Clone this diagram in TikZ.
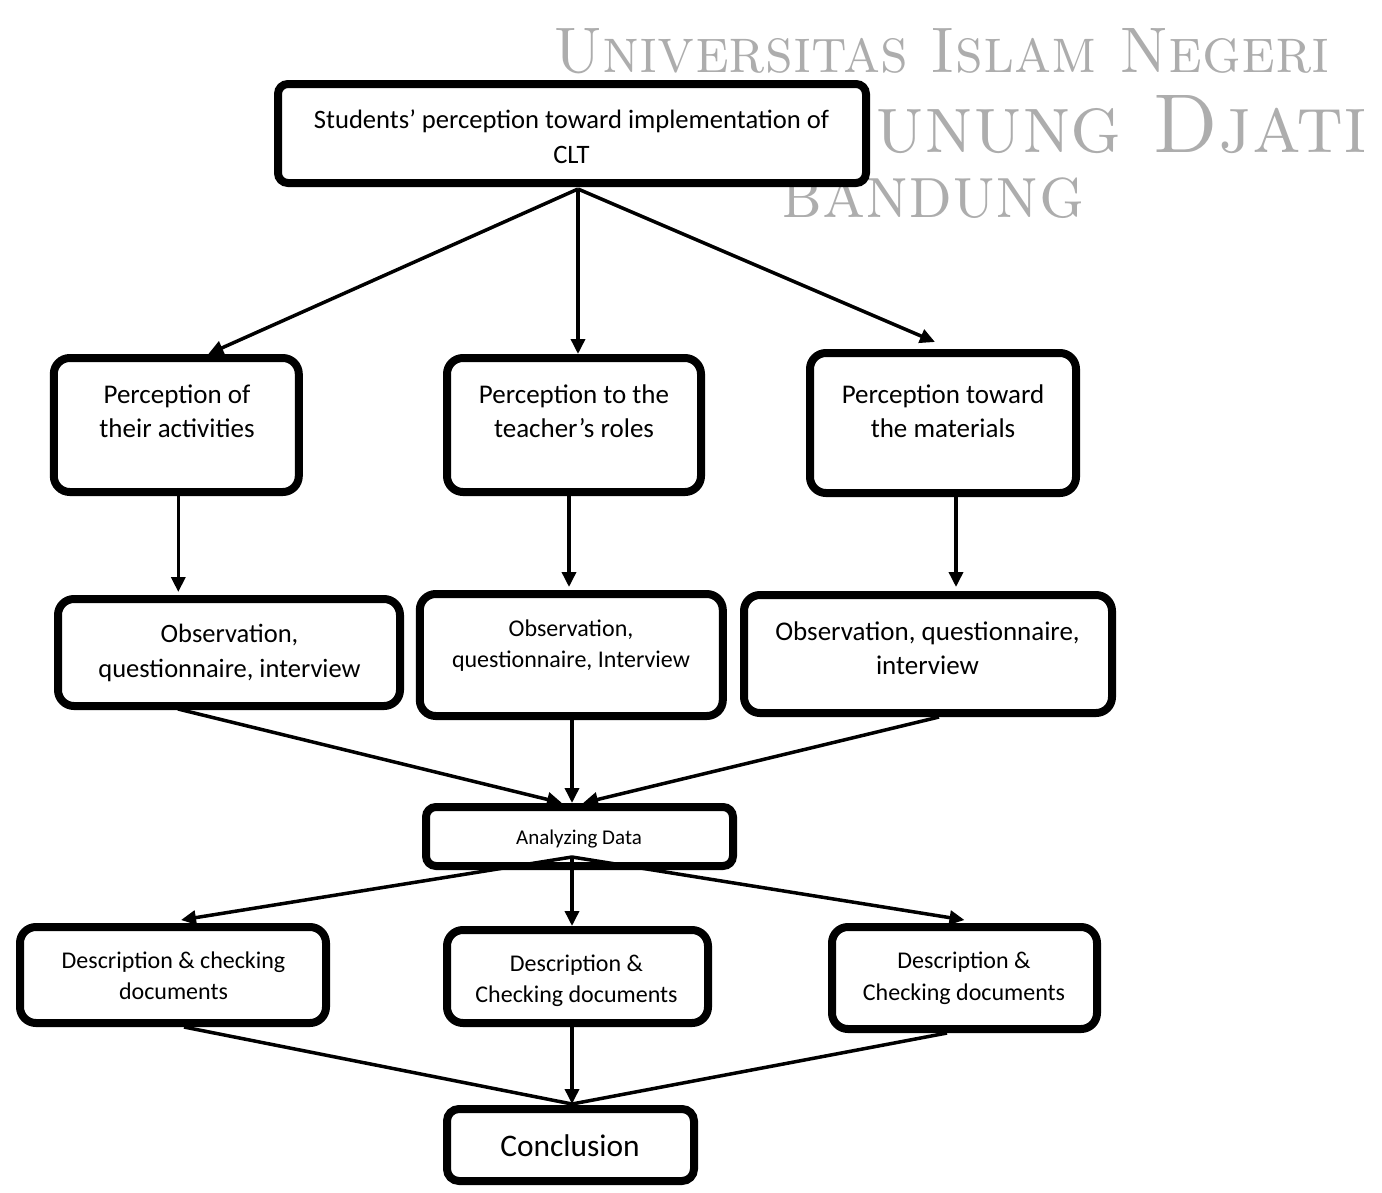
\documentclass[tikz,border=0pt]{standalone}
\usepackage{fontspec}
\usepackage{graphicx}
\newfontfamily\calib{Carlito}
\usetikzlibrary{arrows.meta}
\newcommand{\twol}[1]{\begin{tabular}[t]{@{}c@{}}#1\end{tabular}}
\newcommand{\nodepth}[1]{\raisebox{0pt}[\height][0pt]{#1}}
\tikzset{
  box/.style={draw=black, line width=8pt, rounded corners=16pt, fill=white, inner sep=0pt},
  lbl/.style={inner sep=0pt, anchor=base},
  arr/.style={line width=3.5pt, -{Triangle[length=15pt,width=14pt]}},
  ln/.style={line width=3.5pt},
  wm/.style={text=black!32, inner sep=0pt, anchor=base west, font=\fontsize{40}{40}\selectfont\scshape}
}
\begin{document}
\begin{tikzpicture}[x=1pt,y=-1pt]
\fill[white] (0,0) rectangle (1382,1192);
\useasboundingbox (0,0) rectangle (1382,1192);

% watermark
\node[wm] (w1) at (553,72) {\nodepth{\resizebox{777pt}{44pt}{Universitas Islam Negeri}}};
\node[wm] (w2) at (875,152) {\nodepth{\resizebox{492pt}{57pt}{unung Djati}}};
\node[wm] (w3) at (781,217) {\nodepth{\resizebox{303pt}{40pt}{bandung}}};

% boxes
\node[box, rounded corners=10pt, minimum width=588pt, minimum height=99pt] (T) at (572,133.5) {};
\node[box, minimum width=245pt, minimum height=134pt] (A2) at (176.3,425) {};
\node[box, minimum width=254pt, minimum height=134pt] (B2) at (574,425) {};
\node[box, minimum width=266pt, minimum height=140pt] (C2) at (943,423) {};
\node[box, minimum width=342pt, minimum height=107pt] (A3) at (229,652.5) {};
\node[box, minimum width=303pt, minimum height=122pt] (B3) at (571.3,655) {};
\node[box, minimum width=368pt, minimum height=118pt] (C3) at (928,654) {};
\node[box, rounded corners=10pt, minimum width=307pt, minimum height=59pt] (AD) at (579.5,836.5) {};
\node[box, minimum width=306pt, minimum height=96pt] (A4) at (173,975) {};
\node[box, minimum width=261pt, minimum height=93pt] (B4) at (577.5,976.5) {};
\node[box, minimum width=265pt, minimum height=102pt] (C4) at (964.5,978) {};
\node[box, rounded corners=12pt, minimum width=247pt, minimum height=72pt] (CC) at (570.5,1145) {};

% labels
\node[lbl, font=\calib\fontsize{26.6}{35}\selectfont] (Tl) at (571.5,128) {\twol{Students’ perception toward implementation of\\CLT}};
\node[lbl, font=\calib\fontsize{27}{34}\selectfont] (A2l) at (177,403) {\twol{Perception of\\their activities}};
\node[lbl, font=\calib\fontsize{27}{34}\selectfont] (B2l) at (574,403) {\twol{Perception to the\\teacher’s roles}};
\node[lbl, font=\calib\fontsize{27}{34}\selectfont] (C2l) at (943,403) {\twol{Perception toward\\the materials}};
\node[lbl, font=\calib\fontsize{26.5}{35}\selectfont] (A3l) at (229.5,642) {\twol{Observation,\\questionnaire, interview}};
\node[lbl, font=\calib\fontsize{24}{31}\selectfont] (B3l) at (571,636) {\twol{Observation,\\questionnaire, Interview}};
\node[lbl, font=\calib\fontsize{27}{34}\selectfont] (C3l) at (927.5,640) {\twol{Observation, questionnaire,\\interview}};
\node[lbl, font=\calib\fontsize{21}{25}\selectfont] (ADl) at (579,844) {Analyzing Data};
\node[lbl, font=\calib\fontsize{24}{31}\selectfont] (A4l) at (173.5,968) {\twol{Description \& checking\\documents}};
\node[lbl, font=\calib\fontsize{24}{31}\selectfont] (B4l) at (576.5,971) {\twol{Description \&\\Checking documents}};
\node[lbl, font=\calib\fontsize{24}{32}\selectfont] (C4l) at (964,968) {\twol{Description \&\\Checking documents}};
\node[lbl, font=\calib\fontsize{31.4}{36}\selectfont] (CCl) at (570,1156) {Conclusion};

% connector points
\coordinate (tS) at ([xshift=6pt,yshift=-2pt]T.south);
\coordinate (aS) at ([xshift=-7.5pt,yshift=13pt]AD.south);
\coordinate (cN) at ([xshift=1.5pt,yshift=1pt]CC.north);

% connectors
\draw[arr] (tS) -- ([xshift=32pt]A2.north);
\draw[arr] (tS) -- ([xshift=4pt]B2.north);
\draw[arr] (tS) -- ([xshift=-8pt,yshift=7pt]C2.north);

\draw[arr] ([xshift=2pt]A2.south) -- ([xshift=2pt,yshift=3pt]A2.south |- A3.north);
\draw[arr] ([xshift=-5pt]B2.south) -- ([xshift=-5pt,yshift=3pt]B2.south |- B3.north);
\draw[arr] ([xshift=13pt]C2.south) -- ([xshift=13pt,yshift=4pt]C2.south |- C3.north);

\draw[arr] ([xshift=-51pt,yshift=1pt]A3.south) -- ([xshift=-17.5pt]AD.north);
\draw[arr] ([xshift=0.7pt]B3.south) -- ([xshift=-7.5pt]AD.north);
\draw[arr] ([xshift=11pt]C3.south) -- ([xshift=3.5pt]AD.north);

\draw[arr] (aS) -- ([xshift=8pt,yshift=3pt]A4.north);
\draw[arr] (aS) -- ([xshift=-5.5pt]B4.north);
\draw[arr] (aS) -- ([yshift=3pt]C4.north);

\draw[ln] ([xshift=11pt]A4.south) -- (cN);
\draw[arr] ([xshift=-5.5pt]B4.south) -- (cN);
\draw[ln] ([xshift=-17.5pt]C4.south) -- (cN);
\end{tikzpicture}
\end{document}
